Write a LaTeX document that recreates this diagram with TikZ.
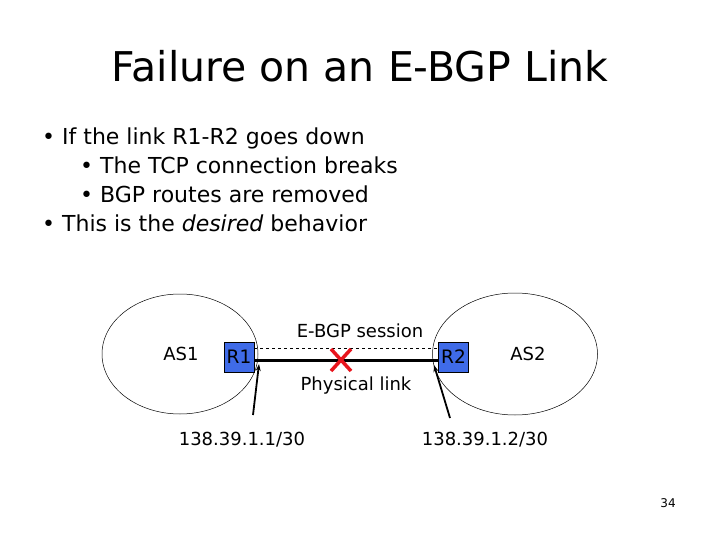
\documentclass[tikz,border=0pt]{standalone}
\usepackage{fontspec}
\setmainfont{DejaVu Sans}
\usetikzlibrary{shapes.geometric,arrows.meta}
\definecolor{rblue}{HTML}{3F6BE8}
\definecolor{xred}{HTML}{E8141C}
\tikzset{
  asell/.style={draw=black, line width=0.5pt, ellipse, inner sep=0pt},
  router/.style={draw=black, line width=0.6pt, fill=rblue, minimum width=30pt, minimum height=30pt, inner sep=0pt, font=\fontsize{18.5}{18}\selectfont},
  lbl/.style={font=\fontsize{18}{20}\selectfont, inner sep=0pt},
  bul/.style={font=\fontsize{22}{25}\selectfont, anchor=base west, inner sep=0pt},
  ptr/.style={line width=1.8pt, -{Stealth[length=7pt,width=5pt]}},
}
\begin{document}
\begin{tikzpicture}[x=1pt,y=-1pt]
\useasboundingbox (0,0) rectangle (720,540);
\fill[white] (0,0) rectangle (720,540);
% title
\node[font=\fontsize{41}{44}\selectfont, inner sep=0pt, anchor=base] (title) at (360,82) {Failure on an E-BGP Link};
% bullets
\node[bul] (b1) at (42,145) {\textbullet\ If the link R1-R2 goes down};
\node[bul] (b2) at (80,174) {\textbullet\ The TCP connection breaks};
\node[bul] (b3) at (80,203) {\textbullet\ BGP routes are removed};
\node[bul] (b4) at (42,231) {\textbullet\ This is the \textit{desired} behavior};
% AS ellipses
\node[asell, minimum width=156pt, minimum height=120pt] (as1) at (180,354) {};
\node[asell, minimum width=165pt, minimum height=122pt] (as2) at (515,354) {};
\node[lbl] (as1t) at (181,354) {AS1};
\node[lbl] (as2t) at (528,354) {AS2};
% routers
\node[router] (r1) at (239,357) {R1};
\node[router] (r2) at (453.5,357) {R2};
% links
\draw[dashed, line width=0.5pt] (r1.east |- 0,348) -- (r2.west |- 0,348);
\draw[line width=3pt] (r1.east |- 0,360) -- (r2.west |- 0,360);
\coordinate (xc) at (341,360);
\draw[xred, line width=3.5pt] ([shift={(-10,-11)}]xc) -- ([shift={(10,11)}]xc);
\draw[xred, line width=3.5pt] ([shift={(10,-11)}]xc) -- ([shift={(-10,11)}]xc);
\node[lbl] (sess) at (360,331) {E-BGP session};
\node[lbl] (phys) at (356,386) {Physical link};
% addresses
\node[lbl] (ip1) at (242,440) {138.39.1.1/30};
\node[lbl] (ip2) at (485,440) {138.39.1.2/30};
\coordinate (p1s) at (253,415);
\coordinate (p1e) at (259,364);
\coordinate (p2s) at (450,418);
\coordinate (p2e) at (434,365);
\draw[ptr] (p1s) -- (p1e);
\draw[ptr] (p2s) -- (p2e);
% slide number
\node[font=\fontsize{12}{14}\selectfont, inner sep=0pt] (num) at (668,503) {34};
\end{tikzpicture}
\end{document}
